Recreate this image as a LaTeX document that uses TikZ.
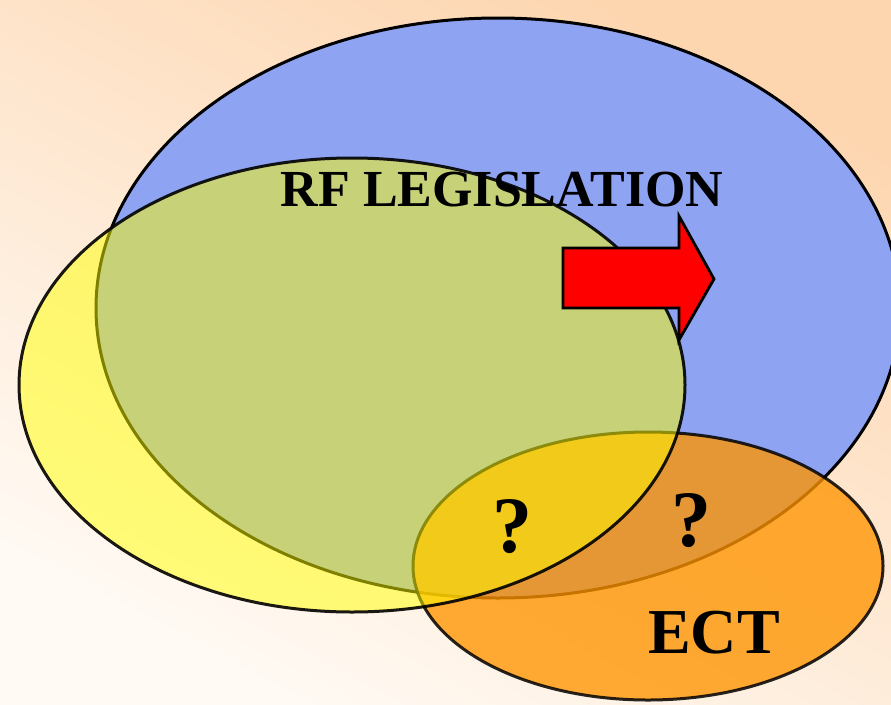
\documentclass[tikz,border=0pt]{standalone}
\usepackage{fontspec}
\setmainfont{Liberation Serif}
\definecolor{bgLight}{RGB}{255,250,244}
\definecolor{bgPeach}{RGB}{253,214,176}
\definecolor{setBlue}{RGB}{142,163,242}
\definecolor{setYellow}{RGB}{255,255,0}
\definecolor{setOrange}{RGB}{255,148,0}
\definecolor{arrowRed}{RGB}{255,0,0}
\tikzset{
  setline/.style={draw=black, line width=3pt},
  label/.style={font=\bfseries, text=black, inner sep=0pt, anchor=base},
}
\begin{document}
\begin{tikzpicture}[x=1pt, y=-1pt]
  % canvas and background shading
  \useasboundingbox (0,0) rectangle (891,704);
  \shade[top color=bgPeach, bottom color=bgLight, shading angle=-28]
    (0,0) rectangle (891,704);

  \begin{scope}
    \clip (0,0) rectangle (891,704);
    % RF legislation set
    \path[setline, fill=setBlue] (498,308) ellipse [x radius=402pt, y radius=290pt];
    % ECT set
    \path[setline, fill=setOrange, fill opacity=0.78, draw opacity=0.85]
      (648,566) ellipse [x radius=235pt, y radius=134pt];
    % third set
    \path[setline, fill=setYellow, fill opacity=0.5, draw opacity=0.9]
      (352,385) ellipse [x radius=333pt, y radius=227pt];
  \end{scope}

  % red block arrow
  \coordinate (tailTop) at (563,248);
  \coordinate (tailBot) at (563,308);
  \coordinate (tip) at (714,279);
  \draw[line width=2.8pt, fill=arrowRed, line join=miter]
    (tailTop) -- (679,248) -- (679,216) -- (tip) -- (679,340) -- (679,308)
    -- (tailBot) -- cycle;

  % labels
  \node[label, font=\bfseries\fontsize{52}{60}\selectfont] (rf) at (502,206) {RF LEGISLATION};
  \node[label, font=\bfseries\fontsize{64}{72}\selectfont] (ect) at (714,653) {ECT};
  \node[label, font=\bfseries\fontsize{80}{90}\selectfont] (qa) at (512,552) {?};
  \node[label, font=\bfseries\fontsize{80}{90}\selectfont] (qb) at (691,546) {?};
\end{tikzpicture}
\end{document}
